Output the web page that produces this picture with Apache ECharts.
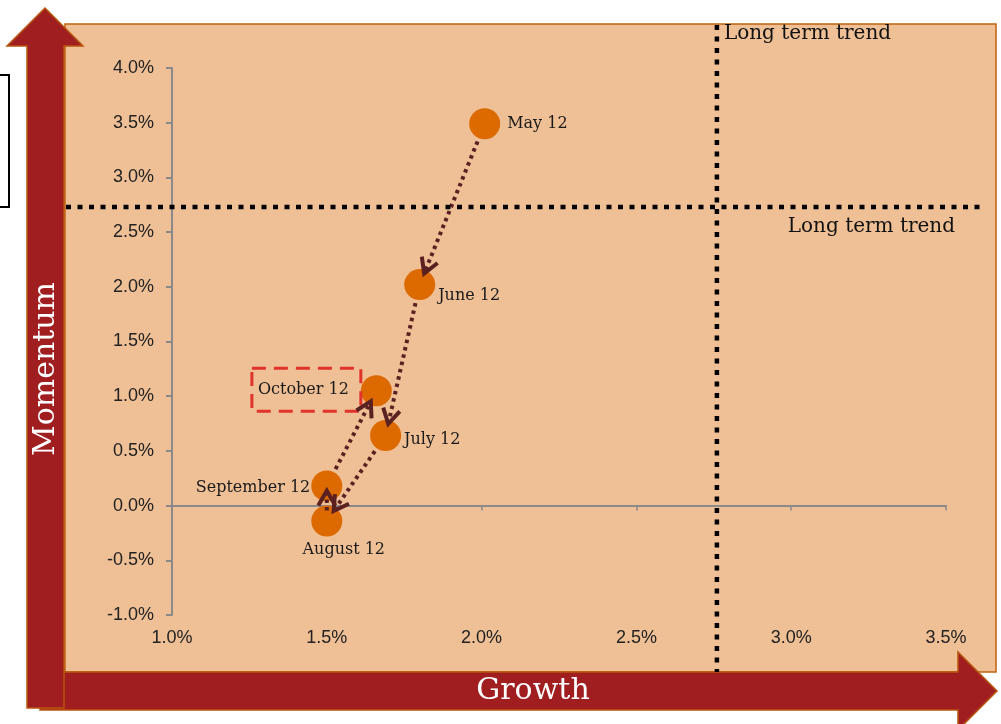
<!DOCTYPE html>
<html>
<head>
<meta charset="utf-8">
<script src="https://cdn.jsdelivr.net/npm/echarts@6/dist/echarts.min.js"></script>
<style>
  html, body { margin: 0; padding: 0; background: #fff; }
  #chart { width: 1001px; height: 724px; }
</style>
</head>
<body>
<div id="chart"></div>
<script>
// data (percent)
var months = ['May 12', 'June 12', 'July 12', 'August 12', 'September 12', 'October 12'];
var growth = [2.01, 1.80, 1.69, 1.50, 1.50, 1.66];
var momentum = [3.49, 2.02, 0.64, -0.14, 0.18, 1.05];
var trendGrowth = 2.76;
var trendMomentum = 2.73;
var xTicks = [1.0, 1.5, 2.0, 2.5, 3.0, 3.5];
var yTicks = [-1.0, -0.5, 0.0, 0.5, 1.0, 1.5, 2.0, 2.5, 3.0, 3.5, 4.0];

var serif = '"DejaVu Serif", serif';
var sans = '"Liberation Sans", Arial, sans-serif';

// label placement per point
var labelCfg = [
  { position: 'right', distance: 7 },
  { position: 'right', distance: 3, offset: [0, 11] },
  { position: 'right', distance: 3, offset: [0, 4] },
  { position: 'bottom', distance: 5, offset: [17, 0] },
  { position: 'left', distance: 1, offset: [0, 2] },
  {
    position: 'left', distance: 0, offset: [0, -1],
    padding: [13, 12, 14, 6],
    borderColor: '#E0332A', borderWidth: 3, borderType: [14, 8]
  }
];

var chartDom = document.getElementById('chart');
var myChart = echarts.init(chartDom);

var points = months.map(function (m, i) {
  return { name: m, value: [growth[i], momentum[i]], label: labelCfg[i] };
});

var segments = [];
for (var i = 0; i < months.length - 1; i++) {
  segments.push([growth[i], momentum[i], growth[i + 1], momentum[i + 1]]);
}

function renderArrow(params, api) {
  var a = api.coord([api.value(0), api.value(1)]);
  var b = api.coord([api.value(2), api.value(3)]);
  var dx = b[0] - a[0], dy = b[1] - a[1];
  var d = Math.sqrt(dx * dx + dy * dy);
  var ux = dx / d, uy = dy / d;
  var s = Math.min(19, d * 0.3), e = Math.min(12, d * 0.14);
  var p0 = [a[0] + ux * s, a[1] + uy * s];
  var p1 = [b[0] - ux * e, b[1] - uy * e];
  var ang = 30 * Math.PI / 180, len = 17;
  var bx = -ux, by = -uy;
  var c = Math.cos(ang), sn = Math.sin(ang);
  var w1 = [p1[0] + len * (bx * c - by * sn), p1[1] + len * (bx * sn + by * c)];
  var w2 = [p1[0] + len * (bx * c + by * sn), p1[1] + len * (-bx * sn + by * c)];
  return {
    type: 'group',
    children: [
      {
        type: 'line',
        shape: { x1: p0[0], y1: p0[1], x2: p1[0], y2: p1[1] },
        style: { stroke: '#5B2020', lineWidth: 4, lineDash: [3.5, 4] }
      },
      {
        type: 'polyline',
        shape: { points: [w1, p1, w2] },
        style: { stroke: '#5B2020', lineWidth: 4, fill: null }
      }
    ]
  };
}

var option = {
  animation: false,
  grid: { left: 172, right: 55, top: 68, bottom: 109 },
  xAxis: [
    {
      type: 'value', min: 1, max: 3.5, interval: 0.5,
      axisLine: { show: false, onZero: false },
      axisTick: { show: false },
      splitLine: { show: false },
      axisLabel: {
        margin: 14, color: '#222', fontFamily: sans, fontSize: 18,
        formatter: function (v) { return v.toFixed(1) + '%'; }
      }
    },
    {
      type: 'value', min: 1, max: 3.5, interval: 0.5, position: 'bottom',
      axisLine: { show: true, onZero: true, lineStyle: { color: '#8a8a8a', width: 2 } },
      axisTick: { show: true, length: 5, lineStyle: { color: '#8a8a8a', width: 1.5 } },
      splitLine: { show: false },
      axisLabel: { show: false }
    }
  ],
  yAxis: {
    type: 'value', min: -1, max: 4, interval: 0.5,
    axisLine: { show: true, lineStyle: { color: '#8a8a8a', width: 2 } },
    axisTick: { show: true, length: 6, lineStyle: { color: '#8a8a8a', width: 2 } },
    splitLine: { show: false },
    axisLabel: {
      margin: 18, color: '#222', fontFamily: sans, fontSize: 18,
      formatter: function (v) { return v.toFixed(1) + '%'; }
    }
  },
  series: [
    {
      type: 'scatter',
      symbolSize: 31,
      itemStyle: { color: '#DD6A00', opacity: 1 },
      label: {
        show: true,
        formatter: '{b}',
        color: '#1a1a1a',
        fontFamily: serif,
        fontSize: 16
      },
      data: points,
      z: 3
    },
    {
      type: 'custom',
      renderItem: renderArrow,
      data: segments,
      z: 4
    }
  ]
};

myChart.setOption(option);

// decorations: background panel, axis arrows, long term trend lines
var vx = myChart.convertToPixel({ xAxisIndex: 0 }, trendGrowth);
var hy = myChart.convertToPixel({ yAxisIndex: 0 }, trendMomentum);
var red = '#A01D20', edge = '#B8560E';

myChart.setOption({
  graphic: [
    {
      type: 'rect', z: -20, silent: true,
      shape: { x: 65, y: 24, width: 931, height: 648 },
      style: { fill: '#EFBF95', stroke: '#C0620F', lineWidth: 1.5 }
    },
    {
      type: 'rect', z: -20, silent: true,
      shape: { x: -5, y: 75, width: 14, height: 132 },
      style: { fill: '#fff', stroke: '#000', lineWidth: 2 }
    },
    {
      type: 'polygon', z: -15, silent: true,
      shape: { points: [[40, 672], [958, 672], [958, 652], [997, 691], [958, 730], [958, 710], [40, 710]] },
      style: { fill: red, stroke: edge, lineWidth: 1.5 }
    },
    {
      type: 'polygon', z: -14, silent: true,
      shape: { points: [[27, 708], [27, 46], [7, 46], [45, 8], [83, 46], [64, 46], [64, 708]] },
      style: { fill: red, stroke: edge, lineWidth: 1.5 }
    },
    {
      type: 'text', z: 10, silent: true,
      x: 533, y: 691,
      style: { text: 'Growth', fill: '#fff', font: '30px ' + serif, align: 'center', verticalAlign: 'middle' }
    },
    {
      type: 'text', z: 10, silent: true,
      x: 46, y: 369, rotation: Math.PI / 2,
      style: { text: 'Momentum', fill: '#fff', font: '30px ' + serif, align: 'center', verticalAlign: 'middle' }
    },
    {
      type: 'line', z: 5, silent: true,
      shape: { x1: vx, y1: 25, x2: vx, y2: 672 },
      style: { stroke: '#000', lineWidth: 4.5, lineDash: [5, 6.5] }
    },
    {
      type: 'line', z: 5, silent: true,
      shape: { x1: 66, y1: hy, x2: 982, y2: hy },
      style: { stroke: '#000', lineWidth: 4.5, lineDash: [5, 6.5] }
    },
    {
      type: 'text', z: 6, silent: true,
      x: vx + 7, y: 34,
      style: { text: 'Long term trend', fill: '#111', font: '20px ' + serif, align: 'left', verticalAlign: 'middle' }
    },
    {
      type: 'text', z: 6, silent: true,
      x: 955, y: hy + 20,
      style: { text: 'Long term trend', fill: '#111', font: '20px ' + serif, align: 'right', verticalAlign: 'middle' }
    }
  ]
});
</script>
</body>
</html>
